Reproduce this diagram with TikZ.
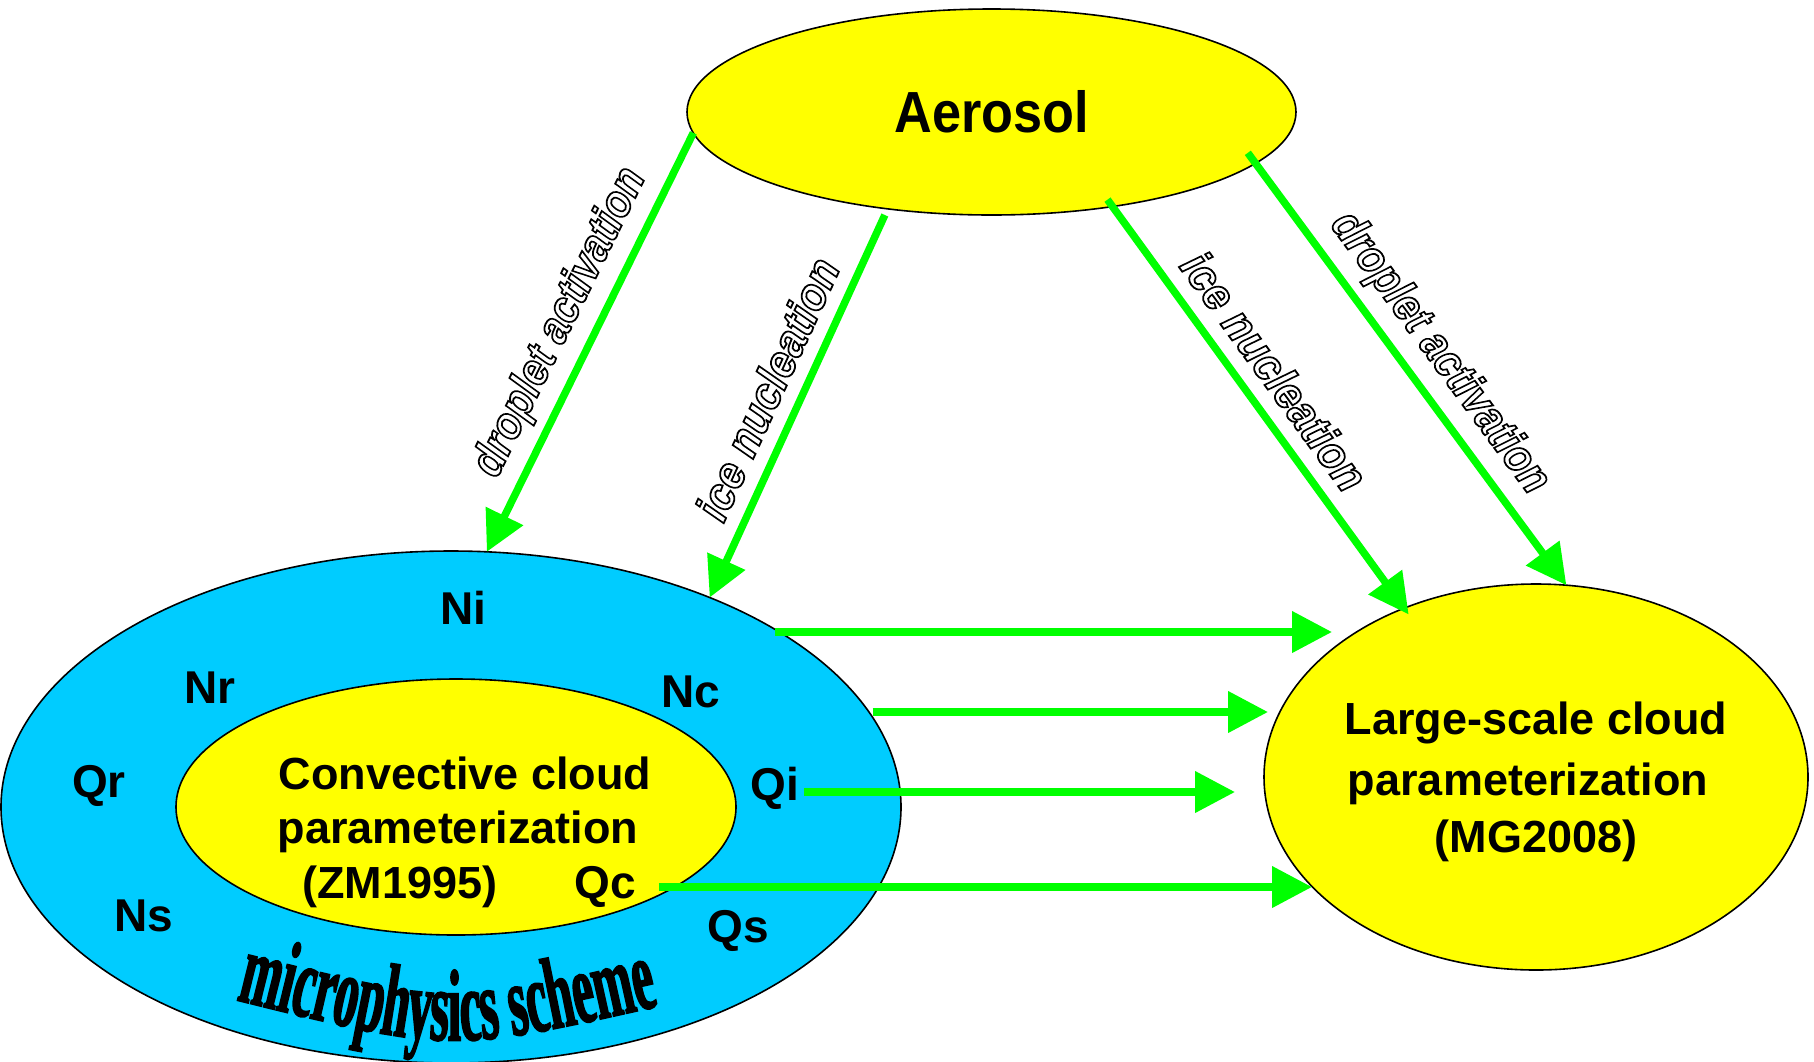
\documentclass[tikz,border=0pt]{standalone}
\usepackage{fontspec}
\setmainfont{Liberation Sans}
\newfontfamily\wafont{Liberation Serif}[FakeStretch=0.47]
\usetikzlibrary{shapes.geometric,arrows.meta,decorations.text,calc}
\definecolor{cyanb}{RGB}{0,204,255}
\definecolor{yel}{RGB}{255,255,0}
\definecolor{grn}{RGB}{0,255,0}
\newcommand{\outl}[2][0.92]{\scalebox{#1}[1]{\special{pdf:literal direct 1 Tr 1.8 w}#2\special{pdf:literal direct 0 Tr}}}
\begin{document}
\begin{tikzpicture}[x=1pt,y=-1pt,
  ell/.style={ellipse, draw=black, line width=1.6pt, inner sep=0pt, outer sep=0pt},
  lab/.style={font=\fontsize{45}{54}\selectfont\bfseries, inner sep=0pt, anchor=base},
  sml/.style={font=\fontsize{46}{54}\selectfont\bfseries, inner sep=0pt, anchor=base},
  arr/.style={draw=grn, line width=7.5pt, -{Triangle[length=40pt,width=40pt]}},
  act/.style={sloped, font=\fontsize{46}{50}\selectfont\bfseries\itshape, inner sep=0pt}]
\useasboundingbox (0,0) rectangle (1814,1061);
% ellipses
\node[ell, fill=cyanb, minimum width=900pt, minimum height=512pt] (blue) at (451,807) {};
\node[ell, fill=yel, minimum width=560pt, minimum height=256pt] (conv) at (456,807) {};
\node[ell, fill=yel, minimum width=544pt, minimum height=386pt] (lsc) at (1536,777) {};
\node[ell, fill=yel, minimum width=609pt, minimum height=206pt,
      font=\fontsize{58}{60}\selectfont\bfseries] (aer) at (991.5,112) {\scalebox{0.9}[1]{Aerosol}};
% inner texts
\node[lab] (c1) at (465,789) {Convective cloud};
\node[lab] (c2) at (458,843) {parameterization};
\node[lab] (c3) at (400,898) {(ZM1995)};
\node[lab] (l1) at (1536,734) {Large-scale cloud};
\node[lab] (l2) at (1528,795) {parameterization};
\node[lab] (l3) at (1536,852) {(MG2008)};
% species labels
\node[sml] (Ni) at (463,624) {Ni};
\node[sml] (Nr) at (210,703) {Nr};
\node[sml] (Nc) at (691,707) {Nc};
\node[sml] (Qr) at (99,797) {Qr};
\node[sml] (Qi) at (775,800) {Qi};
\node[sml] (Ns) at (144,931) {Ns};
\node[sml] (Qs) at (738,942) {Qs};
\node[sml] (Qc) at (605,898) {Qc};
% diagonal arrows
\draw[arr] (aer.184.8) -- node[act, pos=0.49, above=10pt] {\outl[0.88]{droplet activation}} (blue.82.6);
\draw[arr, shorten <=6.8pt] (aer.223) -- node[act, pos=0.5, above=14pt] {\outl{ice nucleation}} (blue.39);
\draw[arr, shorten <=-8.5pt, shorten >=-7.7pt] (aer.-38.7) -- node[act, pos=0.46, above=14pt] {\outl{ice nucleation}} (lsc.128.4);
\draw[arr, shorten <=-13pt] (aer.-11.2) -- node[act, pos=0.5, above=10pt] {\outl[0.88]{droplet activation}} (lsc.81.9);
% horizontal arrows
\coordinate (ta) at (1332,632);
\coordinate (tb) at (1268,712);
\coordinate (tc) at (1235,792);
\coordinate (td) at (1312,887);
\draw[arr] ([xshift=-5pt]blue.28.6 |- ta) -- (ta);
\draw[arr] (blue.12.86 |- tb) -- (tb);
\draw[arr] ([xshift=5pt]Qi.east |- tc) -- (tc);
\draw[arr] ([xshift=23pt]Qc.east |- td) -- (td);
% curved title
\path[decorate, decoration={text along path, text align=center,
   text={|\wafont\bfseries\fontsize{102}{102}\selectfont\special{pdf:literal direct 2 Tr 1.6 w}|microphysics scheme}}]
   (236,1000) .. controls (450,1053) .. (659,1006);
\special{pdf:literal direct 0 Tr}
\end{tikzpicture}
\end{document}
